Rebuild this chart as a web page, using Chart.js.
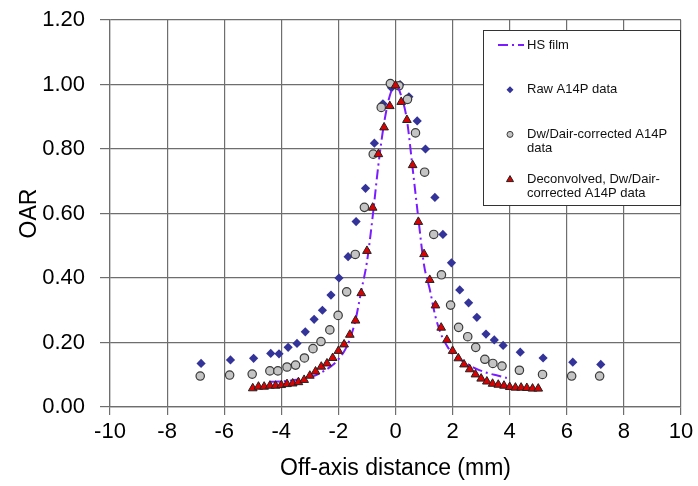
<!DOCTYPE html>
<html>
<head>
<meta charset="utf-8">
<script src="https://cdn.jsdelivr.net/npm/chart.js@4/dist/chart.umd.min.js"></script>
<style>
  html, body { margin: 0; padding: 0; background: #fff; }
  #wrap { width: 698px; height: 486px; }
</style>
</head>
<body>
<div id="wrap"><canvas id="oar"></canvas></div>
<script>
// HS film profile (mm, OAR)
let hsX = [-4.4, -4.0, -3.6, -3.2, -2.8, -2.5, -2.2, -2.0, -1.8, -1.6, -1.4, -1.2, -1.0, -0.8, -0.6, -0.4, -0.2, 0,
  0.2, 0.4, 0.6, 0.8, 1.0, 1.2, 1.4, 1.6, 1.8, 2.0, 2.4, 2.8, 3.2, 3.6, 3.9]
let hsY = [0.078, 0.079, 0.083, 0.089, 0.098, 0.112, 0.13, 0.148, 0.172, 0.21, 0.27, 0.36, 0.45, 0.59, 0.75, 0.88, 0.965, 1.0,
  0.965, 0.89, 0.74, 0.585, 0.44, 0.365, 0.28, 0.225, 0.19, 0.165, 0.14, 0.12, 0.106, 0.097, 0.09]

// Raw A14P readings
let rawX = [-6.81, -5.78, -4.97, -4.37, -4.08, -3.76, -3.45, -3.16, -2.85, -2.56, -2.26, -1.98, -1.66, -1.38, -1.05, -0.74, -0.44,
  -0.14, 0.16, 0.47, 0.76, 1.05, 1.38, 1.66, 1.96, 2.25, 2.56, 2.85, 3.17, 3.46, 3.77, 4.37, 5.17, 6.21, 7.19]
let rawY = [0.135, 0.146, 0.151, 0.166, 0.165, 0.185, 0.197, 0.233, 0.272, 0.30, 0.347, 0.40, 0.466, 0.575, 0.678, 0.818, 0.94,
  0.99, 1.0, 0.962, 0.887, 0.80, 0.65, 0.535, 0.447, 0.363, 0.323, 0.278, 0.226, 0.208, 0.191, 0.17, 0.152, 0.139, 0.132]

// Dw/Dair-corrected A14P readings
let corrX = [-6.84, -5.81, -5.02, -4.40, -4.12, -3.80, -3.50, -3.19, -2.89, -2.61, -2.30, -2.01, -1.71, -1.41, -1.09, -0.78, -0.50,
  -0.18, 0.12, 0.42, 0.70, 1.02, 1.34, 1.61, 1.93, 2.21, 2.53, 2.81, 3.13, 3.41, 3.73, 4.34, 5.15, 6.17, 7.15]
let corrY = [0.096, 0.099, 0.102, 0.112, 0.112, 0.124, 0.130, 0.152, 0.181, 0.203, 0.239, 0.284, 0.357, 0.473, 0.619, 0.784, 0.929,
  1.003, 0.996, 0.954, 0.85, 0.728, 0.535, 0.41, 0.316, 0.247, 0.218, 0.185, 0.148, 0.135, 0.127, 0.114, 0.101, 0.096, 0.096]

// Deconvolved, Dw/Dair-corrected A14P readings (0.2 mm steps)
let decX = [-5.0, -4.8, -4.6, -4.4, -4.2, -4.0, -3.8, -3.6, -3.4, -3.2, -3.0, -2.8, -2.6, -2.4, -2.2, -2.0, -1.8, -1.6, -1.4, -1.2,
  -1.0, -0.8, -0.6, -0.4, -0.2, 0, 0.2, 0.4, 0.6, 0.8, 1.0, 1.2, 1.4, 1.6, 1.8, 2.0, 2.2, 2.4, 2.6, 2.8, 3.0, 3.2, 3.4, 3.6,
  3.8, 4.0, 4.2, 4.4, 4.6, 4.8, 5.0]
let decY = [0.058, 0.063, 0.063, 0.066, 0.066, 0.068, 0.071, 0.073, 0.077, 0.084, 0.097, 0.11, 0.125, 0.135, 0.152, 0.174, 0.194,
  0.224, 0.268, 0.353, 0.484, 0.618, 0.784, 0.867, 0.933, 0.997, 0.946, 0.89, 0.75, 0.574, 0.474, 0.394, 0.315, 0.246, 0.208,
  0.174, 0.151, 0.132, 0.117, 0.101, 0.088, 0.079, 0.072, 0.069, 0.066, 0.062, 0.06, 0.06, 0.059, 0.057, 0.057]

let seriesLabels = [
  'HS film',
  'Raw A14P data',
  'Dw/Dair-corrected A14P data',
  'Deconvolved, Dw/Dair-corrected A14P data',
]

const FONT = "'Liberation Sans', Arial, Helvetica, sans-serif"
const GRID = '#6e6e6e'

let pairs = (xs, ys) => xs.map((x, i) => ({ x: x, y: ys[i] }))

// split a label after spaces / hyphens so it fits the legend box
let wrapText = (ctx, text, maxWidth) => {
  let parts = text.match(/[^\s-]+-?\s*|\s+/g)
  let lines = []
  let cur = ''
  parts.forEach((p) => {
    let test = cur + p
    if (cur && ctx.measureText(test.trim()).width > maxWidth) {
      lines.push(cur.trim())
      cur = p
    } else {
      cur = test
    }
  })
  if (cur.trim()) lines.push(cur.trim())
  return lines
}

let drawMarker = (ctx, ds, x, y) => {
  ctx.save()
  ctx.fillStyle = ds.pointBackgroundColor
  ctx.strokeStyle = ds.pointBorderColor
  ctx.lineWidth = 1
  ctx.beginPath()
  if (ds.pointStyle === 'rectRot') {
    ctx.moveTo(x, y - 3.5); ctx.lineTo(x + 3.5, y); ctx.lineTo(x, y + 3.5); ctx.lineTo(x - 3.5, y)
    ctx.closePath(); ctx.fill()
  } else if (ds.pointStyle === 'triangle') {
    ctx.moveTo(x, y - 3.5); ctx.lineTo(x + 3.5, y + 2.5); ctx.lineTo(x - 3.5, y + 2.5)
    ctx.closePath(); ctx.fill(); ctx.stroke()
  } else {
    ctx.arc(x, y, 3, 0, Math.PI * 2); ctx.fill(); ctx.stroke()
  }
  ctx.restore()
}

// boxed legend in the upper right corner of the plot
let legendBox = {
  id: 'legendBox',
  afterDraw(chart) {
    let ctx = chart.ctx
    let area = chart.chartArea
    let w = 198, h = 176
    let left = area.right - w, top = area.top + 10
    ctx.save()
    ctx.fillStyle = '#fff'
    ctx.fillRect(left, top, w, h)
    ctx.strokeStyle = '#333'
    ctx.lineWidth = 1
    ctx.strokeRect(left + 0.5, top + 0.5, w - 1, h - 1)
    ctx.font = '13px ' + FONT
    ctx.fillStyle = '#111'
    ctx.textBaseline = 'middle'
    chart.data.datasets.forEach((ds, i) => {
      let y = top + 15 + i * 44.7
      let sx = left + 27
      if (ds.showLine) {
        ctx.save()
        ctx.strokeStyle = ds.borderColor
        ctx.lineWidth = 2
        ctx.setLineDash(ds.borderDash)
        ctx.beginPath()
        ctx.moveTo(left + 15, y)
        ctx.lineTo(left + 41, y)
        ctx.stroke()
        ctx.restore()
      } else {
        drawMarker(ctx, ds, sx, y)
      }
      wrapText(ctx, ds.label, 145).forEach((line, j) => {
        ctx.fillText(line, left + 44, y + j * 14.5)
      })
    })
    ctx.restore()
  }
}

let oarChart = new Chart(document.getElementById('oar'), {
  type: 'scatter',
  data: {
    datasets: [
      {
        label: seriesLabels[0],
        data: pairs(hsX, hsY),
        showLine: true,
        borderColor: '#7a1cff',
        borderWidth: 2,
        borderDash: [10, 4, 2, 4],
        cubicInterpolationMode: 'monotone',
        pointRadius: 0,
        order: 1,
      },
      {
        label: seriesLabels[1],
        data: pairs(rawX, rawY),
        pointStyle: 'rectRot',
        pointRadius: 4.6,
        pointBorderWidth: 0,
        pointBackgroundColor: '#333399',
        pointBorderColor: '#333399',
        order: 3,
      },
      {
        label: seriesLabels[2],
        data: pairs(corrX, corrY),
        pointStyle: 'circle',
        pointRadius: 4.2,
        pointBorderWidth: 1.2,
        pointBackgroundColor: '#c4c4c4',
        pointBorderColor: '#3a3a3a',
        order: 2,
      },
      {
        label: seriesLabels[3],
        data: pairs(decX, decY),
        pointStyle: 'triangle',
        pointRadius: 5,
        pointBorderWidth: 1,
        pointBackgroundColor: '#dd0000',
        pointBorderColor: '#222',
        order: 0,
      },
    ]
  },
  options: {
    responsive: true,
    maintainAspectRatio: false,
    animation: false,
    layout: { padding: { top: 20, right: 17, left: 0, bottom: 0 } },
    plugins: {
      legend: { display: false },
      tooltip: { enabled: false },
    },
    scales: {
      x: {
        type: 'linear',
        min: -10,
        max: 10,
        afterFit: (scale) => {
          scale.height = 79
          scale.paddingLeft = 0
          scale.paddingRight = 0
        },
        ticks: {
          stepSize: 2,
          color: '#000',
          padding: 4,
          font: { family: FONT, size: 22 },
        },
        grid: { color: GRID, lineWidth: 1.2, tickLength: 8 },
        border: { color: GRID, width: 1.2 },
        title: {
          display: true,
          text: 'Off-axis distance (mm)',
          color: '#000',
          font: { family: FONT, size: 23 },
          padding: { top: 0, bottom: 4 },
        },
      },
      y: {
        min: 0,
        max: 1.2,
        afterFit: (scale) => {
          scale.width = 110
          scale.paddingTop = 0
          scale.paddingBottom = 0
        },
        ticks: {
          stepSize: 0.2,
          color: '#000',
          padding: 15,
          font: { family: FONT, size: 22 },
          callback: (v) => v.toFixed(2),
        },
        grid: { color: GRID, lineWidth: 1.2, tickLength: 10 },
        border: { color: GRID, width: 1.2 },
        title: {
          display: true,
          text: 'OAR',
          color: '#000',
          font: { family: FONT, size: 23 },
          padding: { top: 16, bottom: 0 },
        },
      },
    },
  },
  plugins: [legendBox],
})
</script>
</body>
</html>
